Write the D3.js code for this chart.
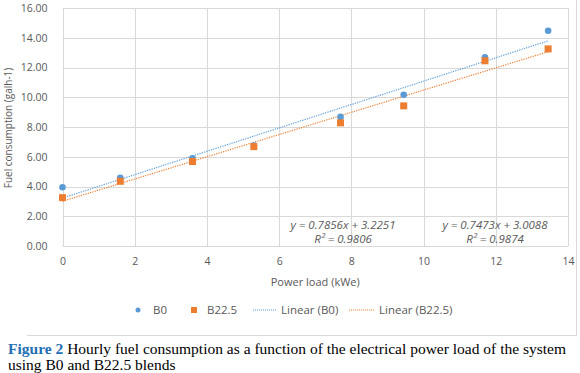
<!DOCTYPE html>
<html>
  <head>
    <title>Fuel consumption vs power load</title>
    <script src="https://d3js.org/d3.v7.min.js"></script>
    <style>
      body { margin: 0; background: #fff; }
      text { font-family: "Open Sans", "DejaVu Sans", sans-serif; }
    </style>
  </head>

  <body>
    <svg width="580" height="373"></svg>

    <script type="text/javascript">
      // power load (kWe) and fuel consumption
      var loadB0 = [0, 1.6, 3.6, 5.3, 7.7, 9.45, 11.7, 13.45];
      var fuelB0 = [3.95, 4.58, 5.9, 6.75, 8.68, 10.17, 12.68, 14.47];
      var loadB225 = [0, 1.6, 3.6, 5.3, 7.7, 9.45, 11.7, 13.45];
      var fuelB225 = [3.25, 4.35, 5.68, 6.68, 8.28, 9.42, 12.45, 13.25];

      var seriesNames = ["B0", "B22.5"];
      var trendSlopes = [0.7856, 0.7473];
      var trendIntercepts = [3.2251, 3.0088];
      var trendLabels = [
        ["y = 0.7856x + 3.2251", "R\u00b2 = 0.9806"],
        ["y = 0.7473x + 3.0088", "R\u00b2 = 0.9874"]
      ];
      var xTicks = [0, 2, 4, 6, 8, 10, 12, 14];
      var yTicks = [0, 2, 4, 6, 8, 10, 12, 14, 16];

      var blue = "#5b9bd5";
      var orange = "#ed7d31";
      var grey = "#595959";

      var svg = d3.select("svg");

      var x = d3.scaleLinear().domain([0, 14]).range([62.5, 568]);
      var y = d3.scaleLinear().domain([0, 16]).range([246, 8]);

      // outer chart border (right and bottom)
      svg.append("path")
        .attr("d", "M576.5,0V335.5H27")
        .attr("fill", "none")
        .attr("stroke", "#d9d9d9")
        .attr("stroke-width", 1);

      // gridlines
      var grid = svg.append("g").attr("id", "grid");
      grid.selectAll("line.h")
        .data(yTicks)
        .enter()
        .append("line")
        .attr("x1", x(0)).attr("x2", x(14))
        .attr("y1", function (d) { return Math.round(y(d)) + 0.5; })
        .attr("y2", function (d) { return Math.round(y(d)) + 0.5; })
        .attr("stroke", "#d9d9d9");
      grid.selectAll("line.v")
        .data(xTicks)
        .enter()
        .append("line")
        .attr("y1", y(0)).attr("y2", y(16))
        .attr("x1", function (d) { return Math.round(x(d)) + 0.5; })
        .attr("x2", function (d) { return Math.round(x(d)) + 0.5; })
        .attr("stroke", "#d9d9d9");

      // axes (labels only, Excel style)
      var yAxis = d3.axisLeft(y).tickValues(yTicks).tickSize(0).tickPadding(15)
        .tickFormat(d3.format(".2f"));
      var gy = svg.append("g").attr("transform", "translate(" + x(0) + ",0)").call(yAxis);
      var xAxis = d3.axisBottom(x).tickValues(xTicks).tickSize(0).tickPadding(12);
      var gx = svg.append("g").attr("transform", "translate(0," + y(0) + ")").call(xAxis);
      [gx, gy].forEach(function (g) {
        g.select(".domain").remove();
        g.selectAll("text")
          .attr("fill", grey)
          .style("font-size", "10.5px");
      });

      svg.append("text")
        .attr("x", x(7))
        .attr("y", 286)
        .attr("text-anchor", "middle")
        .attr("fill", grey)
        .style("font-size", "11px")
        .text("Power load (kWe)");

      svg.append("text")
        .attr("transform", "translate(12,128) rotate(-90)")
        .attr("text-anchor", "middle")
        .attr("fill", grey)
        .style("font-size", "10px")
        .text("Fuel consumption (galh-1)");

      // trendlines
      var trendData = [
        { color: blue, slope: trendSlopes[0], b: trendIntercepts[0], xs: loadB0 },
        { color: orange, slope: trendSlopes[1], b: trendIntercepts[1], xs: loadB225 }
      ];
      var line = d3.line()
        .x(function (d) { return x(d[0]); })
        .y(function (d) { return y(d[1]); });
      svg.append("g").selectAll("path")
        .data(trendData)
        .enter()
        .append("path")
        .attr("d", function (t) {
          var x0 = d3.min(t.xs), x1 = d3.max(t.xs);
          return line([[x0, t.slope * x0 + t.b], [x1, t.slope * x1 + t.b]]);
        })
        .attr("fill", "none")
        .attr("stroke", function (t) { return t.color; })
        .attr("stroke-width", 1.2)
        .attr("stroke-dasharray", "1.2,1.2");

      // points
      var ptsB0 = loadB0.map(function (v, i) { return [v, fuelB0[i]]; });
      var ptsB225 = loadB225.map(function (v, i) { return [v, fuelB225[i]]; });
      svg.append("g").selectAll("circle")
        .data(ptsB0)
        .enter()
        .append("circle")
        .attr("cx", function (d) { return x(d[0]); })
        .attr("cy", function (d) { return y(d[1]); })
        .attr("r", 3.3)
        .attr("fill", blue);
      svg.append("g").selectAll("rect")
        .data(ptsB225)
        .enter()
        .append("rect")
        .attr("x", function (d) { return x(d[0]) - 3.5; })
        .attr("y", function (d) { return y(d[1]) - 3.5; })
        .attr("width", 7)
        .attr("height", 7)
        .attr("fill", orange);

      // trendline equations
      var eqX = [343, 495];
      trendLabels.forEach(function (lab, i) {
        var t = svg.append("text")
          .attr("text-anchor", "middle")
          .attr("fill", grey)
          .style("font-size", "11.5px")
          .style("font-style", "italic");
        t.append("tspan").attr("x", eqX[i]).attr("y", 229).text(lab[0]);
        t.append("tspan").attr("x", eqX[i]).attr("y", 243).text(lab[1]);
      });

      // legend
      var legend = svg.append("g").attr("transform", "translate(0,310)");
      legend.append("circle").attr("cx", 138).attr("cy", 0).attr("r", 2.5).attr("fill", blue);
      legend.append("text").attr("x", 153).attr("y", 4).text(seriesNames[0]);
      legend.append("rect").attr("x", 191).attr("y", -3).attr("width", 6).attr("height", 6).attr("fill", orange);
      legend.append("text").attr("x", 207).attr("y", 4).text(seriesNames[1]);
      legend.append("line").attr("x1", 253).attr("x2", 277).attr("y1", 0).attr("y2", 0)
        .attr("stroke", blue).attr("stroke-dasharray", "1,1");
      legend.append("text").attr("x", 281).attr("y", 4).text("Linear (" + seriesNames[0] + ")");
      legend.append("line").attr("x1", 349).attr("x2", 374).attr("y1", 0).attr("y2", 0)
        .attr("stroke", orange).attr("stroke-dasharray", "1,1");
      legend.append("text").attr("x", 379).attr("y", 4).text("Linear (" + seriesNames[1] + ")");
      legend.selectAll("text").attr("fill", grey).style("font-size", "11.5px");

      // caption
      var cap = svg.append("g").style("font-size", "15.5px");
      var l1 = cap.append("text").attr("x", 8).attr("y", 354).attr("fill", "#000")
        .style("font-family", "'Liberation Serif', 'Times New Roman', serif");
      l1.append("tspan").attr("fill", "#1f6fb2").style("font-weight", "bold").text("Figure 2");
      l1.append("tspan").text(" Hourly fuel consumption as a function of the electrical power load of the system");
      cap.append("text").attr("x", 8).attr("y", 370).attr("fill", "#000")
        .style("font-family", "'Liberation Serif', 'Times New Roman', serif")
        .text("using B0 and B22.5 blends");
    </script>
  </body>
</html>
